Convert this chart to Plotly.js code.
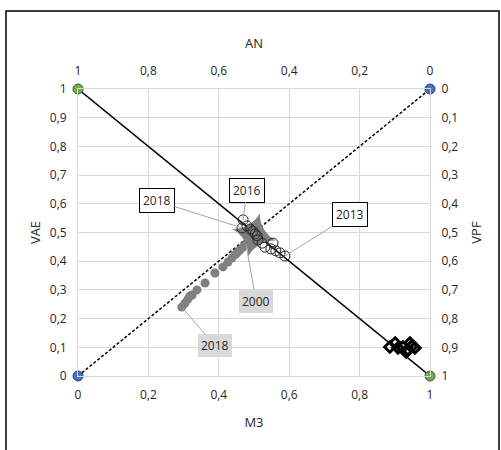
<!DOCTYPE html>
<html>
<head>
<meta charset="utf-8">
<script src="https://cdn.plot.ly/plotly-3.0.1.min.js"></script>
<style>
html,body{margin:0;padding:0;background:#fff;}
#chart{width:501px;height:450px;}
</style>
</head>
<body>
<div id="chart"></div>
<script>
// Reference lines (endpoints)
const solidLineX = [0, 1];
const solidLineY = [1, 0];
const dashedLineX = [0, 1];
const dashedLineY = [0, 1];

// Gray filled circles (2000 -> 2018)
const grayX = [0.477, 0.469, 0.460, 0.452, 0.446, 0.4375, 0.426, 0.412, 0.389, 0.361, 0.338, 0.324, 0.318, 0.3125, 0.304, 0.295];
const grayY = [0.460, 0.449, 0.439, 0.429, 0.422, 0.411, 0.397, 0.380, 0.359, 0.324, 0.300, 0.282, 0.279, 0.268, 0.254, 0.240];

// Open circles along the solid diagonal
const openX = [0.588, 0.574, 0.562, 0.548, 0.554, 0.531, 0.523, 0.511, 0.509, 0.503, 0.497, 0.489, 0.480, 0.469, 0.466];
const openY = [0.418, 0.429, 0.436, 0.443, 0.463, 0.449, 0.463, 0.474, 0.488, 0.495, 0.505, 0.512, 0.523, 0.544, 0.516];

// Gray star
const starX = [0.500];
const starY = [0.492];

// Black diamonds near bottom-right
const diamondX = [0.886, 0.901, 0.909, 0.923, 0.932, 0.9375, 0.943, 0.949, 0.957];
const diamondY = [0.101, 0.115, 0.098, 0.101, 0.084, 0.091, 0.115, 0.105, 0.098];

// Data labels
const labelText   = ['2018', '2016', '2013', '2000', '2018'];
const labelPointX = [0.466, 0.469, 0.588, 0.477, 0.295];
const labelPointY = [0.516, 0.544, 0.418, 0.460, 0.240];
const labelBoxX   = [0.224, 0.480, 0.773, 0.506, 0.389];
const labelBoxY   = [0.610, 0.648, 0.561, 0.261, 0.105];
const labelBoxed  = [true, true, true, false, false];

// Axis ticks
const tickVals = [0, 0.2, 0.4, 0.6, 0.8, 1];
const yTickVals = [0, 0.1, 0.2, 0.3, 0.4, 0.5, 0.6, 0.7, 0.8, 0.9, 1];

const FONT = 'Open Sans, Liberation Sans, sans-serif';
const TXT = '#262626';

const traces = [
  {x: dashedLineX, y: dashedLineY, mode: 'lines+markers', cliponaxis: false, line: {color: '#000', width: 1.5, dash: '3px,2px'},
   marker: {color: '#4472c4', size: 10, line: {color: '#2f3f5f', width: 1}}, hoverinfo: 'skip'},
  {x: solidLineX, y: solidLineY, mode: 'lines+markers', cliponaxis: false, line: {color: '#000', width: 1.5},
   marker: {color: '#70ad47', size: 10, line: {color: '#3a5a28', width: 1}}, hoverinfo: 'skip'},
  {x: grayX, y: grayY, mode: 'markers', marker: {color: '#808080', size: 9, symbol: 'circle'}},
  {x: starX, y: starY, mode: 'markers', marker: {color: '#7f7f7f', size: 32, symbol: 'star-diamond', angle: 15}},
  {x: openX, y: openY, mode: 'markers', marker: {color: '#262626', size: 10, symbol: 'circle-open', line: {width: 1}}},
  {x: diamondX, y: diamondY, mode: 'markers', marker: {color: '#000', size: 8, symbol: 'diamond-open', line: {width: 3}}},
  {x: [0.5], y: [0.5], xaxis: 'x2', yaxis: 'y2', mode: 'markers', marker: {opacity: 0}, hoverinfo: 'skip'}
];

const annotations = labelText.map((t, i) => ({
  x: labelPointX[i], y: labelPointY[i], xref: 'x', yref: 'y',
  ax: labelBoxX[i], ay: labelBoxY[i], axref: 'x', ayref: 'y',
  text: t, showarrow: true, arrowhead: 0, arrowwidth: 1, arrowcolor: '#a6a6a6', standoff: 0,
  font: {family: FONT, size: 12, color: '#262626'},
  bgcolor: labelBoxed[i] ? '#ffffff' : '#d9d9d9',
  bordercolor: labelBoxed[i] ? '#000000' : 'rgba(0,0,0,0)',
  borderwidth: labelBoxed[i] ? 1 : 0,
  borderpad: 3
}));

const axisCommon = {
  zeroline: false, ticks: 'outside', ticklen: 8, tickcolor: 'rgba(0,0,0,0)',
  tickfont: {family: FONT, size: 12, color: TXT}, automargin: false, fixedrange: true
};

const layout = {
  width: 501, height: 450,
  margin: {l: 78, r: 71, t: 89, b: 74},
  paper_bgcolor: '#fff', plot_bgcolor: '#fff',
  separators: ', ',
  showlegend: false,
  font: {family: FONT, size: 12, color: TXT},
  xaxis: Object.assign({}, axisCommon, {
    range: [0, 1], tickvals: tickVals, showgrid: true, gridcolor: '#d9d9d9', gridwidth: 1,
    showline: true, linecolor: '#d9d9d9', linewidth: 1, mirror: true,
    title: {text: 'M3', standoff: 15, font: {family: FONT, size: 13, color: TXT}}
  }),
  yaxis: Object.assign({}, axisCommon, {
    range: [0, 1], tickvals: yTickVals, showgrid: true, gridcolor: '#d9d9d9', gridwidth: 1,
    showline: true, linecolor: '#d9d9d9', linewidth: 1, mirror: true,
    title: {text: 'VAE', standoff: 6, font: {family: FONT, size: 13, color: TXT}}
  }),
  xaxis2: Object.assign({}, axisCommon, {
    overlaying: 'x', side: 'top', range: [1, 0], tickvals: tickVals, showgrid: false, showline: false,
    title: {text: 'AN', standoff: 10, font: {family: FONT, size: 13, color: TXT}}
  }),
  yaxis2: Object.assign({}, axisCommon, {
    overlaying: 'y', side: 'right', range: [1, 0], tickvals: yTickVals, showgrid: false, showline: false,
    title: {text: 'VPF', standoff: 14, font: {family: FONT, size: 13, color: TXT}}
  }),
  annotations: annotations,
  shapes: [{
    type: 'rect', xref: 'paper', yref: 'paper', layer: 'above',
    x0: (6 - 78) / 352, x1: (499 - 78) / 352, y0: (376 - 460) / 287, y1: (376 - 11) / 287,
    line: {color: '#000', width: 1.5}, fillcolor: 'rgba(0,0,0,0)'
  }]
};

Plotly.newPlot('chart', traces, layout, {staticPlot: true, displayModeBar: false});
</script>
</body>
</html>
